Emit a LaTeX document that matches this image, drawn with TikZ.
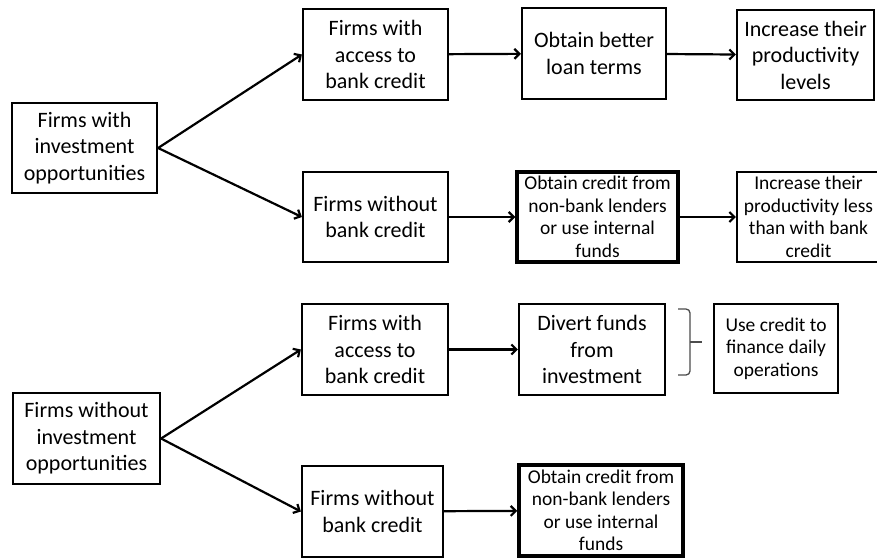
\documentclass[tikz,border=0pt]{standalone}
\usepackage{fontspec}
\setmainfont{Carlito}
\usetikzlibrary{arrows.meta}
\begin{document}
\begin{tikzpicture}[x=1pt,y=-1pt,
  box/.style={draw, line width=2.2pt, align=center, inner sep=0pt, font=\fontsize{22}{26.5}\selectfont},
  smallbox/.style={box, font=\fontsize{19.5}{22.5}\selectfont},
  heavybox/.style={smallbox, line width=3.5pt},
  arr/.style={-{Straight Barb[length=5pt,width=10pt]}, line width=2.2pt}]
\clip (0,0) rectangle (877,558);

\node[box, minimum width=145, minimum height=90] (invest) at (84.5,148) {Firms with\\investment\\opportunities};
\node[box, minimum width=145, minimum height=91] (bank1) at (375.5,54.5) {Firms with\\access to\\bank credit};
\node[box, minimum width=144, minimum height=91] (terms) at (594,53.5) {Obtain better\\loan terms};
\node[box, minimum width=137, minimum height=90] (prod) at (805.5,55) {Increase their\\productivity\\levels};
\node[box, minimum width=145, minimum height=90] (nobank1) at (375.5,217) {Firms without\\bank credit};
\node[heavybox, minimum width=161, minimum height=90] (other1) at (597.5,217) {Obtain credit from\\non-bank lenders\\or use internal\\funds};
\node[smallbox, minimum width=143, minimum height=90] (prodless) at (808.5,217) {Increase their\\productivity less\\than with bank\\credit};

\node[box, minimum width=147, minimum height=91] (noinvest) at (86.5,438.5) {Firms without\\investment\\opportunities};
\node[box, minimum width=146, minimum height=91] (bank2) at (375,349.5) {Firms with\\access to\\bank credit};
\node[box, minimum width=146, minimum height=91] (divert) at (592,349.5) {Divert funds\\from\\investment};
\node[smallbox, minimum width=124, minimum height=89] (daily) at (776,348.5) {Use credit to\\finance daily\\operations};
\node[box, minimum width=141, minimum height=91] (nobank2) at (372.5,511.5) {Firms without\\bank credit};
\node[heavybox, minimum width=164, minimum height=91] (other2) at (601,510.5) {Obtain credit from\\non-bank lenders\\or use internal\\funds};

\draw[arr] (invest.east) -- (bank1.west);
\draw[arr] (invest.east) -- (nobank1.west);
\draw[arr] (bank1) -- (terms);
\draw[arr] (terms) -- (prod);
\draw[arr] (nobank1) -- (other1);
\draw[arr] (other1) -- (prodless);

\draw[arr] (noinvest.east) -- (bank2.west);
\draw[arr] (noinvest.east) -- (nobank2.west);
\draw[arr] (bank2) -- (divert);
\draw[arr] (nobank2) -- (other2);

% brace between divert and daily
\draw[line width=1.3pt, black!70, rounded corners=4pt]
  (678,309) -- (690,309) -- (690,375) -- (678,375);
\draw[line width=1.3pt, black!70] (690,342) -- (702,342);
\end{tikzpicture}
\end{document}
